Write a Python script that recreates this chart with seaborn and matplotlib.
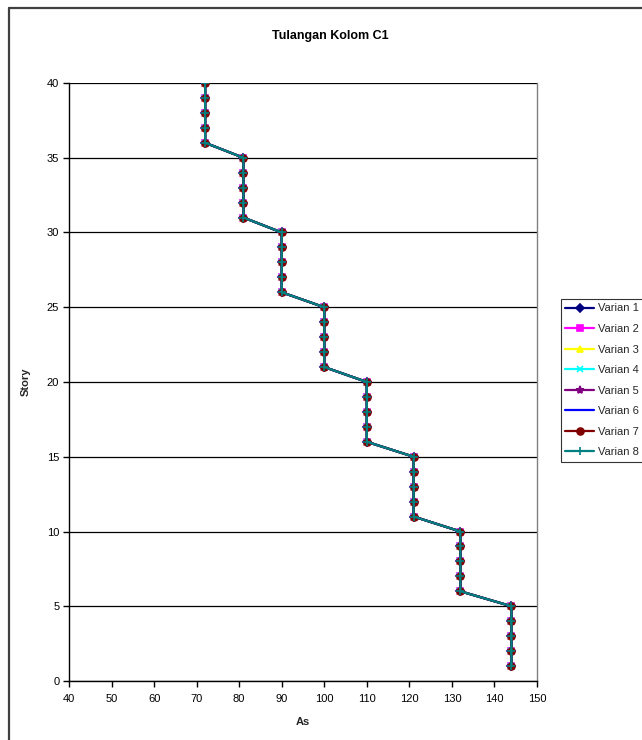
import matplotlib
matplotlib.use("Agg")
import matplotlib.pyplot as plt
import seaborn as sns
import pandas as pd
from matplotlib.lines import Line2D

# Storey numbers and required steel area (As) for column C1
story = list(range(1, 41))
as_levels = [144, 132, 121, 110, 100, 90, 81, 72]   # one value per group of 5 storeys

varian_1 = [v for v in as_levels for _ in range(5)]
varian_2 = list(varian_1)
varian_3 = list(varian_1)
varian_4 = list(varian_1)
varian_5 = list(varian_1)
varian_6 = list(varian_1)
varian_7 = list(varian_1)
varian_8 = list(varian_1)

series_names = ["Varian 1", "Varian 2", "Varian 3", "Varian 4",
                "Varian 5", "Varian 6", "Varian 7", "Varian 8"]
series_values = [varian_1, varian_2, varian_3, varian_4,
                 varian_5, varian_6, varian_7, varian_8]

colors = ["#000080", "#FF00FF", "#FFFF00", "#00FFFF",
          "#800080", "#0000FF", "#800000", "#008080"]
markers = ["D", "s", "^", "x", "*", "_", "o", "+"]
msizes = [4, 4, 5, 5, 6, 6, 5, 6]

sns.set_theme(style="white")
plt.rcParams["font.family"] = ["Liberation Sans", "DejaVu Sans"]

fig = plt.figure(figsize=(6.42, 7.40), dpi=100)
ax = fig.add_axes([69 / 642, 1 - 681 / 740, (537 - 69) / 642, (681 - 83) / 740])
ax.set_facecolor("none")

for name, vals, c, m, ms in zip(series_names, series_values, colors, markers, msizes):
    df = pd.DataFrame({"As": vals, "Story": story})
    sns.lineplot(data=df, x="As", y="Story", sort=False, estimator=None,
                 ax=ax, color=c, marker=m, markersize=ms, linewidth=1.6,
                 markeredgecolor=c, markeredgewidth=1.2, label=name, zorder=3)

ax.set_xlim(40, 150)
ax.set_ylim(0, 40)
ax.set_xticks(range(40, 151, 10))
ax.set_yticks(range(0, 41, 5))
ax.yaxis.grid(True, color="#000000", linewidth=0.9)
ax.xaxis.grid(False)
ax.set_axisbelow(True)

for side in ["left", "bottom"]:
    ax.spines[side].set_color("#000000")
    ax.spines[side].set_linewidth(1.0)
ax.spines["right"].set_color("#808080")
ax.spines["right"].set_linewidth(1.0)
ax.spines["top"].set_visible(False)

ax.tick_params(axis="both", which="major", direction="out", length=4, width=1,
               color="#000000", labelsize=8, pad=3, labelcolor="#000000")
ax.tick_params(axis="x", bottom=True, pad=5)
ax.tick_params(axis="y", left=True)

ax.set_xlabel("As", fontsize=8, fontweight="bold", labelpad=10)
ax.set_ylabel("Story", fontsize=8, fontweight="bold", labelpad=12)

fig.text(330 / 642, 1 - 36 / 740, "Tulangan Kolom C1", ha="center", va="center",
         fontsize=9, fontweight="bold", color="#000000")

# Outer chart frame
fig.add_artist(Line2D([9 / 642, 1.0], [1 - 8 / 740, 1 - 8 / 740],
                      color="#404040", linewidth=1.6, transform=fig.transFigure))
fig.add_artist(Line2D([9 / 642, 9 / 642], [0.0, 1 - 8 / 740],
                      color="#404040", linewidth=1.6, transform=fig.transFigure))

handles, labels = ax.get_legend_handles_labels()
leg = ax.legend(handles, labels, loc="upper left",
                bbox_to_anchor=(561 / 642, 1 - 299 / 740),
                bbox_transform=fig.transFigure, frameon=True, fancybox=False,
                fontsize=8, handlelength=2.6, handletextpad=0.3,
                labelspacing=0.95, borderpad=0.4, borderaxespad=0)
leg.get_frame().set_edgecolor("#000000")
leg.get_frame().set_linewidth(0.8)

fig.savefig("out.png", dpi=100)
